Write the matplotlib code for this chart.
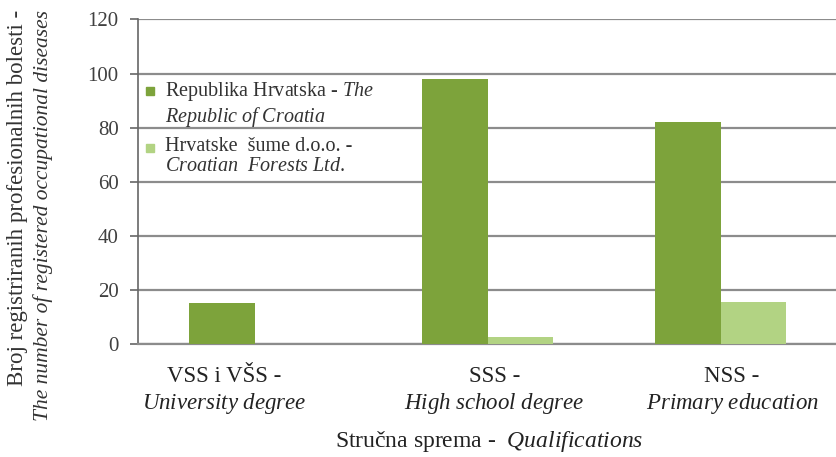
import matplotlib
matplotlib.use("Agg")
import matplotlib.pyplot as plt
import numpy as np

# data
categories = ["VSS i VŠS -", "SSS -", "NSS -"]
categories_en = ["University degree", "High school degree", "Primary education"]
croatia = [15, 98, 82]
forests = [0, 2.5, 15.5]
yticks = [0, 20, 40, 60, 80, 100, 120]

dark_green = "#7DA33B"
light_green = "#B2D383"
grid_grey = "#8C8C8C"

plt.rcParams["font.family"] = ["Liberation Serif", "DejaVu Serif"]
plt.rcParams["mathtext.fontset"] = "custom"
plt.rcParams["mathtext.rm"] = "Liberation Serif"
plt.rcParams["mathtext.it"] = "Liberation Serif:italic"

W, H = 836, 457
fig = plt.figure(figsize=(W / 100, H / 100), dpi=100)


def px(x, y):
    # pixel position -> figure fraction
    return x / W, 1 - y / H


ax = fig.add_axes([138 / W, 1 - 344 / H, 699 / W, 324.5 / H])

x = np.arange(len(categories))
bw = 0.283
ax.bar(x - bw / 2, croatia, bw, color=dark_green, zorder=3)
ax.bar(x + bw / 2, forests, bw, color=light_green, zorder=3)

ax.set_xlim(-0.5, 2.5)
ax.set_ylim(0, 120)
ax.set_yticks(yticks)
ax.yaxis.grid(True, color=grid_grey, linewidth=1.6, zorder=0)
ax.set_axisbelow(True)

for s in ["top", "right"]:
    ax.spines[s].set_visible(False)
ax.spines["bottom"].set_color(grid_grey)
ax.spines["bottom"].set_linewidth(1.6)
ax.spines["left"].set_color("#666666")
ax.spines["left"].set_linewidth(1.2)
ax.tick_params(axis="y", direction="out", length=6, width=1.2, color="#666666",
               labelsize=15, labelcolor="#404040", pad=8)

# category labels (Excel puts them a bit off the group centre)
label_pos = [-0.13, 1.03, 2.05]
ax.set_xticks(label_pos)
ax.set_xticklabels([f"{a}\n$\\it{{{b.replace(' ', chr(92) + ' ')}}}$"
                    for a, b in zip(categories, categories_en)],
                   fontsize=16.5, linespacing=1.2, color="#222222")
ax.tick_params(axis="x", length=0, pad=16)

fig.text(*px(489, 441), "Stručna sprema -  $\\it{Qualifications}$",
         ha="center", va="center", fontsize=17, color="#222222")

# y label, two rotated lines
fig.text(*px(18, 10), "Broj registriranih profesionalnih bolesti -",
         rotation=90, ha="center", va="top", fontsize=16.5, color="#333333")
fig.text(*px(43, 10), "The number of registered occupational diseases",
         rotation=90, ha="center", va="top", fontsize=15.5, style="italic",
         color="#333333")

# legend drawn by hand: marker sits on the first line of each entry
legend_items = [
    (dark_green, "Republika Hrvatska - $\\it{The}$\n$\\it{Republic\\ of\\ Croatia}$", 91),
    (light_green, "Hrvatske  šume d.o.o. -\n$\\it{Croatian\\ \\ Forests\\ Ltd.}$", 148),
]
for color, text, ytop in legend_items:
    fig.patches.append(plt.Rectangle(px(146, ytop + 4), 8 / W, 8 / H,
                                     transform=fig.transFigure, color=color))
    fig.text(*px(165, ytop - 11), text, ha="left", va="top", fontsize=14.5,
             linespacing=1.1, color="#333333")

fig.savefig("out.png", dpi=100)
